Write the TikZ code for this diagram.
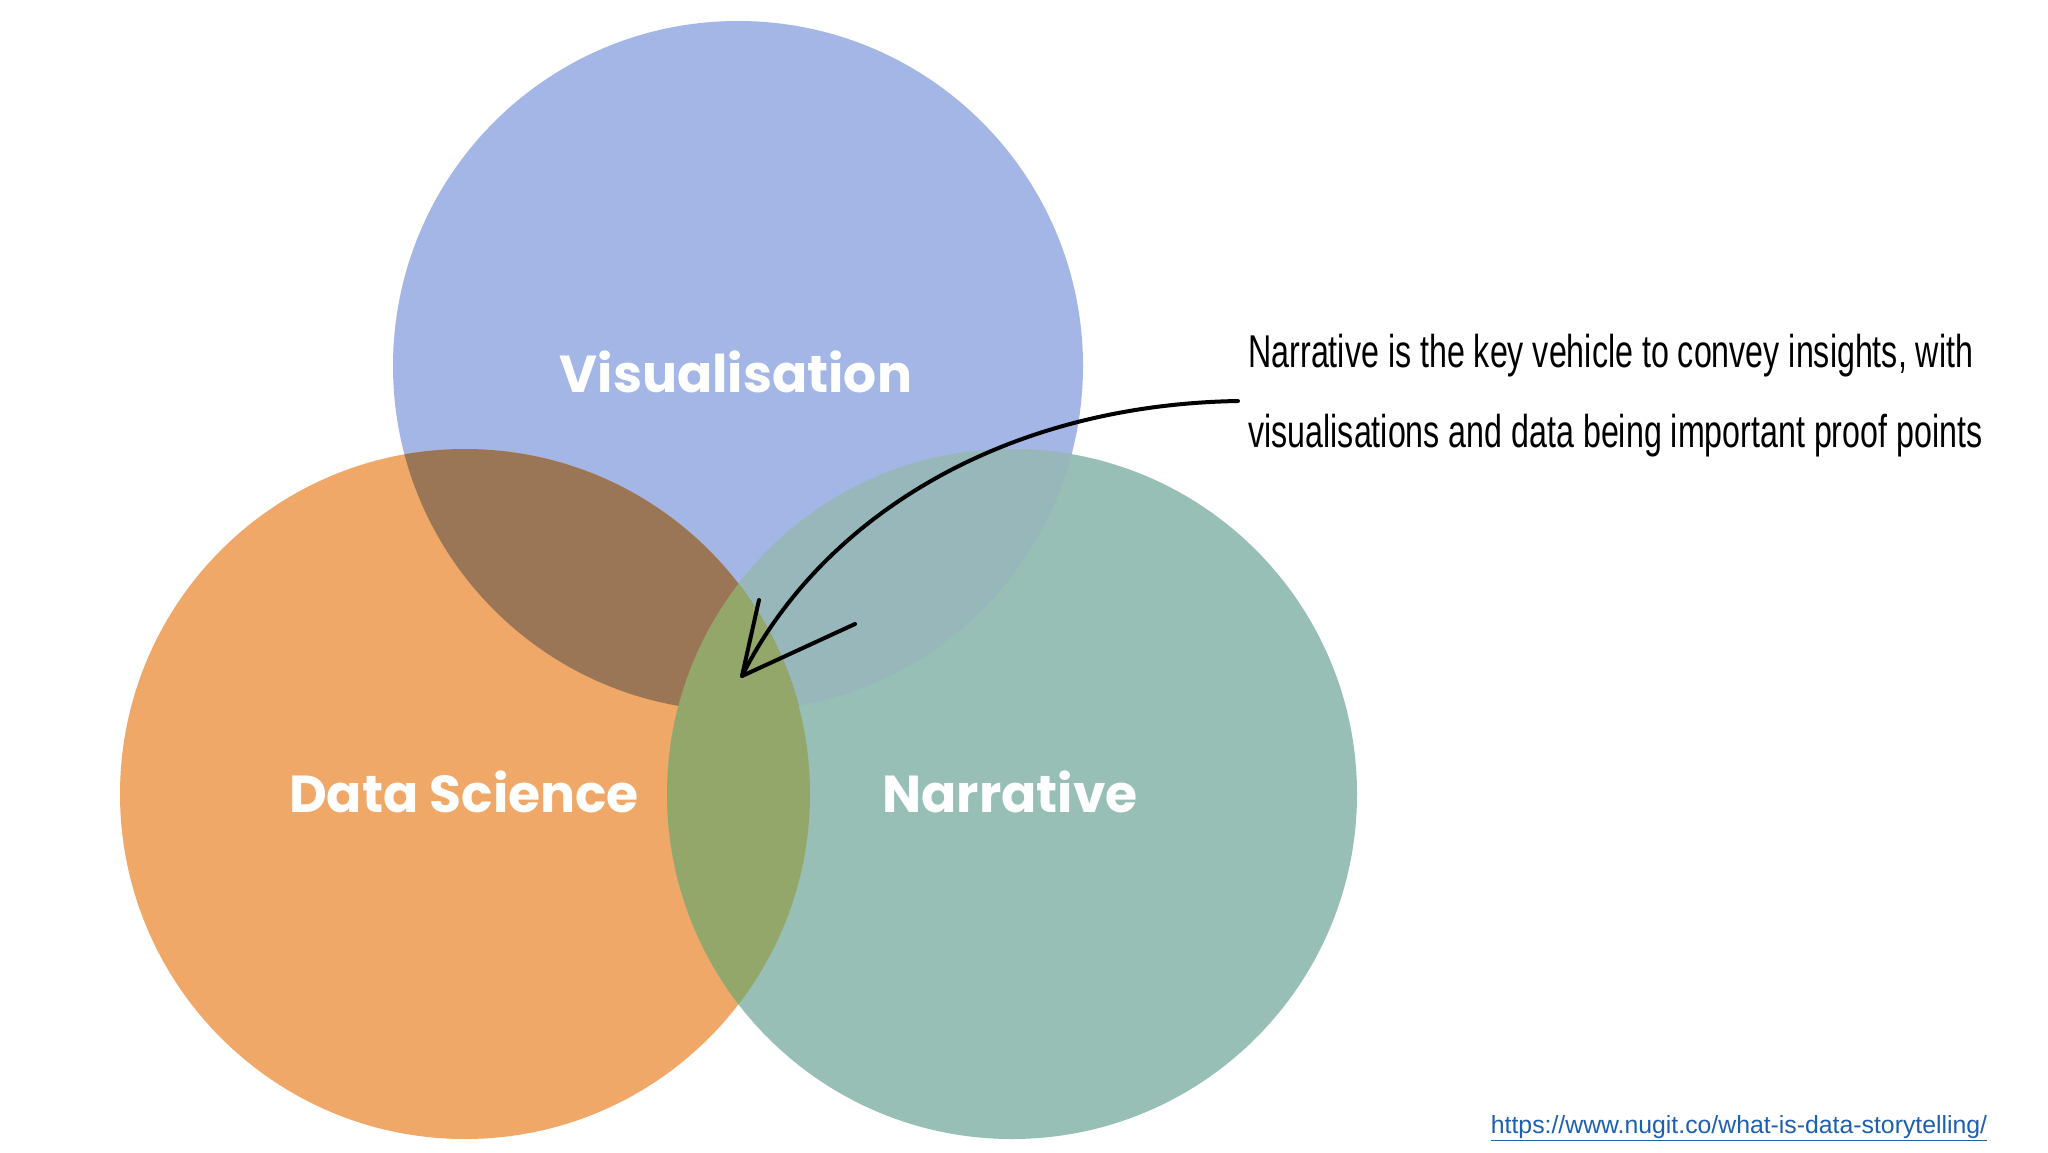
\documentclass[tikz,border=0pt]{standalone}
\usepackage{fontspec}
\setmainfont{Liberation Sans}
\newfontfamily\labfont{Poppins}
\definecolor{cvis}{HTML}{A3B6E5}
\definecolor{cds}{HTML}{F0A868}
\definecolor{cnar}{HTML}{97BFB5}
\definecolor{cdv}{HTML}{9A7657}
\definecolor{cdn}{HTML}{93A76A}
\definecolor{cvn}{HTML}{97B7BA}
\definecolor{clink}{HTML}{1F5FAF}
\begin{document}
\begin{tikzpicture}[x=1pt,y=-1pt,
  lab/.style={text=white,font=\labfont\fontsize{52}{60}\selectfont\bfseries},
  note/.style={font=\fontsize{46}{56}\selectfont,xscale=0.70,anchor=west}]
\useasboundingbox (0,0) rectangle (2048,1152);
\fill[white] (0,0) rectangle (2048,1152);
\coordinate (V) at (738,366);
\coordinate (D) at (465,794);
\coordinate (N) at (1012,794);
\def\r{345}
\fill[cvis] (V) circle (\r);
\fill[cds] (D) circle (\r);
\fill[cnar] (N) circle (\r);
\begin{scope}\clip (V) circle (\r); \fill[cvn] (N) circle (\r); \end{scope}
\begin{scope}\clip (D) circle (\r); \fill[cdv] (V) circle (\r); \fill[cdn] (N) circle (\r); \end{scope}
\node[lab] (lv) at (736,372) {Visualisation};
\node[lab] (ld) at (464,792) {Data Science};
\node[lab] (ln) at (1010,792) {Narrative};
\node[note] (n1) at (1246,356) {Narrative is the key vehicle to convey insights, with};
\node[note] (n2) at (1246,436) {visualisations and data being important proof points};
\coordinate (s) at (1238,401);
\coordinate (e) at (742,676);
\coordinate (h1) at (759,600);
\coordinate (h2) at (855,624);
\draw[line width=4pt,line cap=round,line join=round] (s) .. controls (1000,405) and (820,520) .. (e);
\draw[line width=4pt,line cap=round,line join=round] (h1) -- (e) -- (h2);
\node[text=clink,font=\fontsize{24.8}{28}\selectfont] (url) at (1739,1128) {\underline{https://www.nugit.co/what-is-data-storytelling/}};
\end{tikzpicture}
\end{document}
